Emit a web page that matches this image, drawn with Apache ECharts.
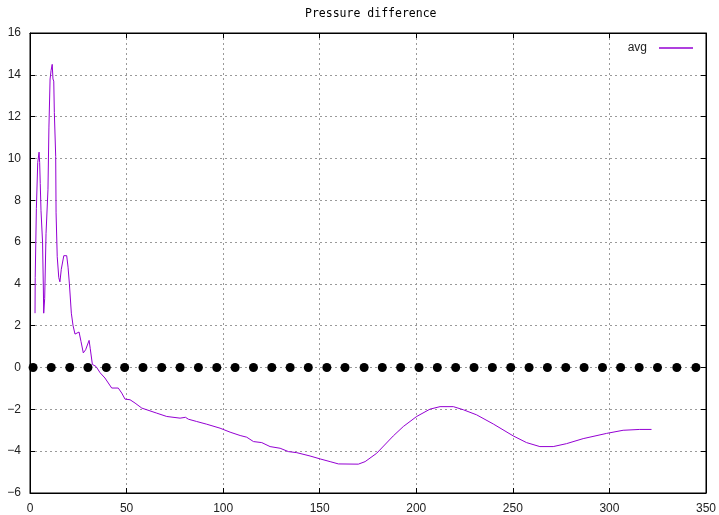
<!DOCTYPE html>
<html>
<head>
<meta charset="utf-8">
<script src="https://cdn.jsdelivr.net/npm/echarts@6/dist/echarts.min.js"></script>
<style>
  html, body { margin: 0; padding: 0; background: #fff; }
  #chart { width: 719px; height: 515px; }
</style>
</head>
<body>
<div id="chart"></div>
<script>
// avg curve
var avgX = [2.6, 2.7, 3.3, 4.0, 4.7, 5.0, 5.3, 5.7, 6.5, 6.9, 7.1, 7.6, 8.3, 9.3, 9.8,
  10.4, 10.9, 11.5, 11.9, 12.3, 12.6, 13.3, 13.5, 14.1, 14.9, 15.5, 16.2, 17.5, 19.0,
  19.7, 20.4, 21.4, 22.3, 23.3, 25.4, 26.4, 27.6, 28.8, 30.6, 31.2, 32.3, 34.2, 36.3,
  38.8, 42.3, 45.7, 47.5, 49.2, 51.8, 54.4, 57.9, 65.6, 70.8, 77.7, 80.5, 82.0, 86.3,
  91.5, 98.4, 103.6, 108.8, 112.2, 115.7, 120.0, 124.3, 129.5, 133.8, 138.1, 145.0,
  150.2, 155.4, 159.7, 170.0, 173.5, 179.5, 188.1, 193.3, 200.2, 207.1, 212.3, 219.2,
  224.4, 231.2, 239.9, 250.2, 257.1, 264.0, 270.9, 277.8, 286.4, 298.5, 307.1, 315.7, 321.8];
var avgY = [2.6, 4.3, 7.6, 9.8, 10.3, 9.8, 8.8, 7.5, 6.0, 3.9, 2.6, 3.3, 6.4, 8.5, 11.5,
  13.8, 14.2, 14.5, 13.8, 13.7, 12.2, 10.1, 7.4, 5.3, 4.3, 4.1, 4.7, 5.35, 5.35,
  4.8, 4.0, 2.6, 2.0, 1.6, 1.7, 1.25, 0.7, 0.85, 1.3, 0.9, 0.15, 0.05, -0.25,
  -0.5, -0.98, -0.98, -1.22, -1.51, -1.54, -1.7, -1.94, -2.18, -2.34, -2.42, -2.38, -2.47, -2.58,
  -2.71, -2.9, -3.09, -3.25, -3.33, -3.54, -3.59, -3.78, -3.86, -4.02, -4.07, -4.23,
  -4.37, -4.5, -4.61, -4.62, -4.5, -4.1, -3.27, -2.82, -2.34, -1.99, -1.87, -1.87,
  -2.02, -2.26, -2.7, -3.27, -3.59, -3.78, -3.78, -3.64, -3.4, -3.15, -3.0, -2.96, -2.96];

// black markers along zero
var dotX = [1.6, 11.0, 20.6, 30.0, 39.5, 49.0, 58.5, 68.2, 77.7, 87.2, 96.7, 106.2,
  115.7, 125.2, 134.7, 144.1, 153.7, 163.1, 173.0, 182.4, 191.9, 201.4, 210.9, 220.4,
  229.9, 239.4, 248.9, 258.4, 267.9, 277.4, 286.9, 296.4, 305.8, 315.4, 324.9, 334.9, 344.8];
var dotY = [0, 0, 0, 0, 0, 0, 0, 0, 0, 0, 0, 0, 0, 0, 0, 0, 0, 0, 0,
  0, 0, 0, 0, 0, 0, 0, 0, 0, 0, 0, 0, 0, 0, 0, 0, 0, 0];

var xTicks = [0, 50, 100, 150, 200, 250, 300, 350];
var yTicks = [-6, -4, -2, 0, 2, 4, 6, 8, 10, 12, 14, 16];

function pairs(xs, ys) {
  var out = [];
  for (var i = 0; i < xs.length; i++) {
    out.push([xs[i], ys[i]]);
  }
  return out;
}

var labelFont = 'Liberation Sans';
var gridLine = { show: true, lineStyle: { color: '#9a9a9a', type: [2, 3], width: 1 } };
var frameTick = { show: true, inside: true, length: 5, lineStyle: { color: '#000' } };

var chart = echarts.init(document.getElementById('chart'), null, { renderer: 'canvas' });

chart.setOption({
  animation: false,
  backgroundColor: '#fff',
  title: {
    text: 'Pressure difference',
    left: 300,
    top: 3,
    textStyle: {
      fontFamily: 'DejaVu Sans Mono',
      fontSize: 11.5,
      fontWeight: 'normal',
      color: '#000'
    }
  },
  legend: {
    data: [{ name: 'avg', icon: 'rect' }],
    right: 26,
    top: 42,
    padding: 0,
    align: 'right',
    itemWidth: 34,
    itemHeight: 1.5,
    textStyle: { fontFamily: labelFont, fontSize: 12, color: '#222', padding: [0, 7, 0, 0] }
  },
  grid: {
    left: 30,
    right: 13,
    top: 33,
    bottom: 22,
    show: true,
    borderColor: '#000',
    borderWidth: 1,
    containLabel: false
  },
  xAxis: [
    {
      type: 'value',
      min: xTicks[0],
      max: xTicks[xTicks.length - 1],
      interval: 50,
      axisLine: { show: true, onZero: false, lineStyle: { color: '#000' } },
      axisTick: frameTick,
      axisLabel: {
        margin: 10,
        fontFamily: labelFont,
        fontSize: 12,
        color: '#222'
      },
      splitLine: gridLine
    },
    {
      type: 'value',
      position: 'top',
      min: xTicks[0],
      max: xTicks[xTicks.length - 1],
      interval: 50,
      axisLine: { show: true, onZero: false, lineStyle: { color: '#000' } },
      axisTick: frameTick,
      axisLabel: { show: false },
      splitLine: { show: false }
    }
  ],
  yAxis: [
    {
      type: 'value',
      min: yTicks[0],
      max: yTicks[yTicks.length - 1],
      interval: 2,
      axisLine: { show: true, onZero: false, lineStyle: { color: '#000' } },
      axisTick: frameTick,
      axisLabel: {
        margin: 9,
        fontFamily: labelFont,
        fontSize: 12,
        color: '#222',
        formatter: function (v) {
          return v < 0 ? '\u2212' + Math.abs(v) : String(v);
        }
      },
      splitLine: gridLine
    },
    {
      type: 'value',
      position: 'right',
      min: yTicks[0],
      max: yTicks[yTicks.length - 1],
      interval: 2,
      axisLine: { show: true, onZero: false, lineStyle: { color: '#000' } },
      axisTick: frameTick,
      axisLabel: { show: false },
      splitLine: { show: false }
    }
  ],
  series: [
    {
      name: 'zero',
      type: 'scatter',
      xAxisIndex: 0,
      yAxisIndex: 0,
      symbol: 'circle',
      symbolSize: 9,
      itemStyle: { color: '#000', opacity: 1 },
      data: pairs(dotX, dotY),
      z: 3
    },
    {
      name: 'avg',
      type: 'line',
      xAxisIndex: 0,
      yAxisIndex: 0,
      symbol: 'none',
      showSymbol: false,
      smooth: false,
      color: '#9400d3',
      lineStyle: { color: '#9400d3', width: 1 },
      data: pairs(avgX, avgY),
      z: 4
    }
  ]
});
</script>
</body>
</html>
